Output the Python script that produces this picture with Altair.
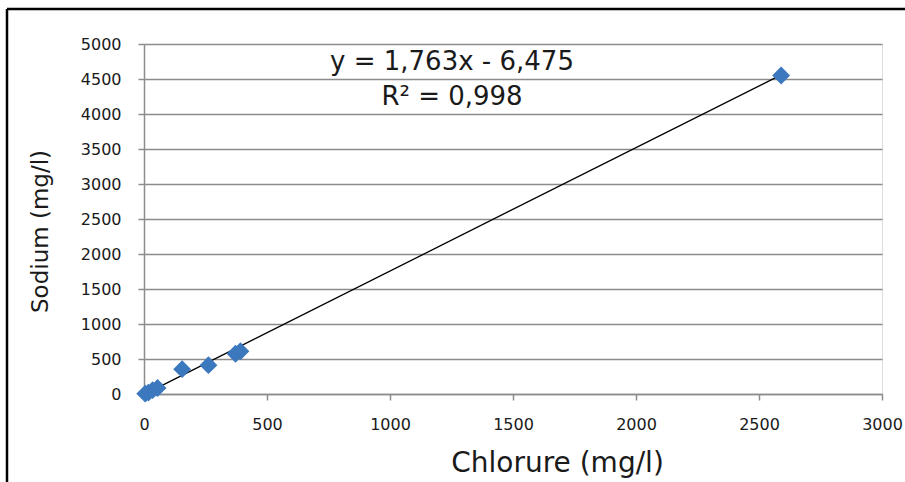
import altair as alt
import pandas as pd

# Chloride vs sodium concentrations (mg/l)
chlorure = [5, 18, 35, 55, 155, 262, 372, 392, 2590]
sodium = [5, 20, 55, 85, 355, 412, 575, 610, 4550]

# Linear trend line reported on the chart
slope = 1.763
intercept = -6.475
equation = "y = 1,763x - 6,475"
r2_label = "R² = 0,998"

x_ticks = [0, 500, 1000, 1500, 2000, 2500, 3000]
y_ticks = [0, 500, 1000, 1500, 2000, 2500, 3000, 3500, 4000, 4500, 5000]

FONT = "DejaVu Sans"
TXT = "#1a1a1a"
GRID = "#8c8c8c"
W, H = 738, 350

points = pd.DataFrame({"x": chlorure, "y": sodium})
trend = pd.DataFrame({"x": [min(chlorure), max(chlorure)]})

x_scale = alt.Scale(domain=[0, 3000], nice=False)
y_scale = alt.Scale(domain=[0, 5000], nice=False)

base_x = alt.X(
    "x:Q",
    scale=x_scale,
    axis=alt.Axis(
        values=x_ticks,
        tickCount=len(x_ticks),
        format="d",
        title="Chlorure (mg/l)",
        grid=False,
        domainColor=GRID,
        domainWidth=1.5,
        tickColor=GRID,
        tickWidth=1.5,
        tickSize=6,
        labelFont=FONT,
        labelFontSize=16,
        labelColor=TXT,
        labelPadding=16,
        labelFlush=False,
        labelOverlap=False,
        titleFont=FONT,
        titleFontSize=28,
        titleFontWeight="normal",
        titleColor=TXT,
        titlePadding=17,
        titleX=413,
    ),
)
base_y = alt.Y(
    "y:Q",
    scale=y_scale,
    axis=alt.Axis(
        values=y_ticks,
        tickCount=len(y_ticks),
        format="d",
        title="Sodium (mg/l)",
        grid=True,
        gridColor=GRID,
        gridWidth=1.5,
        domainColor=GRID,
        domainWidth=1.5,
        tickColor=GRID,
        tickWidth=1.5,
        tickSize=6,
        labelFont=FONT,
        labelFontSize=16,
        labelColor=TXT,
        labelPadding=17,
        labelOverlap=False,
        titleFont=FONT,
        titleFontSize=23,
        titleFontWeight="normal",
        titleColor=TXT,
        titlePadding=28,
        titleY=187,
    ),
)

line = (
    alt.Chart(trend)
    .transform_calculate(y=f"{slope} * datum.x + ({intercept})")
    .mark_line(color="#000000", strokeWidth=1.3)
    .encode(x=base_x, y=base_y)
)

markers = (
    alt.Chart(points)
    .mark_point(shape="diamond", filled=True, size=320, color="#3c78be", opacity=1)
    .encode(x=alt.X("x:Q", scale=x_scale), y=alt.Y("y:Q", scale=y_scale))
)

label_style = dict(font=FONT, fontSize=26, color=TXT, align="center", baseline="middle")
eq_line = (
    alt.Chart(pd.DataFrame({"t": [equation]}))
    .mark_text(**label_style)
    .encode(text="t:N", x=alt.value(308), y=alt.value(18))
)
r2_line = (
    alt.Chart(pd.DataFrame({"t": [r2_label]}))
    .mark_text(**label_style)
    .encode(text="t:N", x=alt.value(308), y=alt.value(53))
)

# Outer frame of the chart object (left and top edges)
frame = alt.Chart(pd.DataFrame({"a": [0]})).mark_rule(color="#000000", strokeWidth=2.5)
frame_left = frame.encode(x=alt.value(-137), y=alt.value(-35), y2=alt.value(H + 100))
frame_top = frame.encode(x=alt.value(-137), x2=alt.value(W + 40), y=alt.value(-35))

chart = (
    alt.layer(frame_left, frame_top, line, markers, eq_line, r2_line)
    .properties(width=W, height=H, autosize=alt.AutoSizeParams(type="none"),
                padding={"left": 144, "top": 44, "right": 23, "bottom": 88})
    .configure_view(stroke=None)
    .configure(background="white")
)

chart.save("out.html", embed_options={"renderer": "svg", "actions": False})
